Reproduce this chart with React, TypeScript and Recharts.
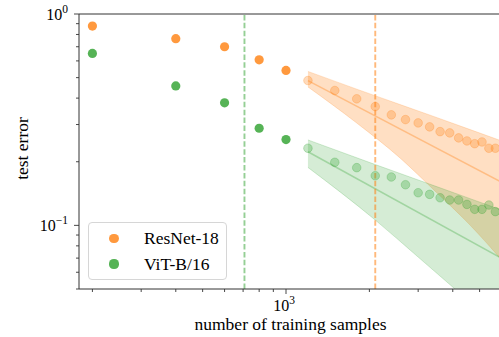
import React from 'react';
import { ComposedChart, XAxis, YAxis, Scatter, Line, Area, ReferenceLine, Label } from 'recharts';

const ORANGE = '#ff7f0e';
const GREEN = '#2ca02c';
const FONT = '"Liberation Serif", "Times New Roman", serif';

// number of training samples
const earlyX = [200, 400, 600, 800, 1000];
const resnetEarly = [0.877, 0.764, 0.7, 0.607, 0.541];
const vitEarly = [0.651, 0.457, 0.38, 0.288, 0.2545];

const lateX = [1200, 1500, 1800, 2100, 2400, 2700, 3000, 3300, 3600, 3900, 4200, 4500, 4800, 5100, 5400, 5700];
const resnetLate = [0.4845, 0.4345, 0.3969, 0.3648, 0.3333, 0.3166, 0.3053, 0.2924, 0.2777, 0.2738, 0.2593, 0.2509, 0.2435, 0.2481, 0.2317, 0.2317];
const vitLate = [0.2317, 0.1988, 0.1875, 0.1718, 0.1694, 0.1557, 0.1427, 0.1402, 0.1351, 0.1318, 0.1318, 0.1257, 0.1191, 0.1191, 0.1248, 0.1162];

// power-law fits
const fitX = [1200, 6023];
const resnetFit = [0.484, 0.1596];
const vitFit = [0.223, 0.0697];

// confidence bands
const resnetBandX = [1200, 1800, 2580, 3450, 4620, 6023];
const resnetBandLow = [0.452, 0.305, 0.2084, 0.1454, 0.1003, 0.0683];
const resnetBandHigh = [0.535, 0.441, 0.373, 0.326, 0.284, 0.2506];
const vitBandX = [1200, 2100, 3000, 4074, 6023];
const vitBandLow = [0.188, 0.106, 0.0708, 0.05, 0.032];
const vitBandHigh = [0.2537, 0.194, 0.164, 0.142, 0.118];

const vitThreshold = 708;
const resnetThreshold = 2100;

const xTicks = [200, 300, 400, 500, 600, 700, 800, 900, 1000, 2000, 3000, 4000, 5000];
const yTicks = [0.05, 0.06, 0.07, 0.08, 0.09, 0.1, 0.2, 0.3, 0.4, 0.5, 0.6, 0.7, 0.8, 0.9, 1];
const xDomain = [178.9, 6023];
const yDomain = [0.05, 1];

const pts = (xs: number[], ys: number[]) => xs.map((x, i) => ({ x, y: ys[i] }));
const band = (xs: number[], lo: number[], hi: number[]) => xs.map((x, i) => ({ x, range: [lo[i], hi[i]] }));

const resnetEarlyData = pts(earlyX, resnetEarly);
const vitEarlyData = pts(earlyX, vitEarly);
const resnetLateData = pts(lateX, resnetLate);
const vitLateData = pts(lateX, vitLate);
const resnetFitData = pts(fitX, resnetFit);
const vitFitData = pts(fitX, vitFit);
const resnetBandData = band(resnetBandX, resnetBandLow, resnetBandHigh);
const vitBandData = band(vitBandX, vitBandLow, vitBandHigh);

const solidDot = (color: string) => (p: any) => (
  <circle cx={p.cx} cy={p.cy} r={4.6} fill={color} fillOpacity={0.8} />
);
const fadedDot = (color: string) => (p: any) => (
  <circle cx={p.cx} cy={p.cy} r={4.3} fill={color} fillOpacity={0.28} stroke={color} strokeOpacity={0.25} strokeWidth={1} />
);

const XTick = (p: any) => {
  const v = p.payload.value;
  const major = v === 1000;
  return (
    <g>
      <line x1={p.x} x2={p.x} y1={p.y} y2={p.y + (major ? 5 : 3)} stroke="#333" strokeWidth={0.9} />
      {major && (
        <text x={p.x - 2} y={p.y + 22} textAnchor="middle" fontFamily={FONT} fontSize={16} fill="#000">
          10<tspan dy={-7} fontSize={11.5}>3</tspan>
        </text>
      )}
    </g>
  );
};

const YTick = (p: any) => {
  const v = p.payload.value;
  const major = v === 0.1 || v === 1;
  return (
    <g>
      <line x1={p.x - (major ? 5 : 3)} x2={p.x} y1={p.y} y2={p.y} stroke="#333" strokeWidth={0.9} />
      {major && (
        <text x={p.x - 11} y={p.y + 6} textAnchor="end" fontFamily={FONT} fontSize={16} fill="#000">
          10<tspan dy={-7} fontSize={11.5}>{v === 1 ? '0' : '\u22121'}</tspan>
        </text>
      )}
    </g>
  );
};

const legendItems = [
  { name: 'ResNet-18', color: ORANGE },
  { name: 'ViT-B/16', color: GREEN },
];

export default function App() {
  return (
    <div style={{ position: 'fixed', left: 0, top: 0, width: 499, height: 337, overflow: 'hidden', background: '#fff' }}>
      <ComposedChart width={510} height={337} margin={{ top: 14, right: 8, bottom: 0, left: 0 }}>
        <XAxis
          dataKey="x"
          type="number"
          scale="log"
          domain={xDomain}
          allowDataOverflow
          ticks={xTicks}
          interval={0}
          tickSize={0}
          tickMargin={0}
          tickLine={false}
          tick={<XTick />}
          height={48}
          axisLine={{ stroke: '#333', strokeWidth: 1 }}
        >
          <Label
            content={(lp: any) => {
              const vb = lp.viewBox || { x: 79, y: 289, width: 423, height: 48 };
              return (
                <text x={vb.x + vb.width / 2} y={330} textAnchor="middle" fontFamily={FONT} fontSize={17.5} fill="#000">
                  number of training samples
                </text>
              );
            }}
          />
        </XAxis>
        <YAxis
          type="number"
          scale="log"
          domain={yDomain}
          allowDataOverflow
          ticks={yTicks}
          interval={0}
          tickSize={0}
          tickMargin={0}
          tickLine={false}
          tick={<YTick />}
          width={79}
          axisLine={{ stroke: '#333', strokeWidth: 1 }}
        >
          <Label
            content={(lp: any) => {
              const vb = lp.viewBox || { x: 0, y: 14, width: 79, height: 275 };
              const cy = vb.y + vb.height / 2 - 3;
              return (
                <text x={22} y={cy} transform={`rotate(-90 22 ${cy})`} textAnchor="middle" dominantBaseline="central" fontFamily={FONT} fontSize={17.5} fill="#000">
                  test error
                </text>
              );
            }}
          />
        </YAxis>
        <ReferenceLine y={1} stroke="#333" strokeWidth={1} />
        <Area data={resnetBandData} dataKey="range" type="monotone" fill={ORANGE} fillOpacity={0.25} stroke={ORANGE} strokeOpacity={0.2} strokeWidth={1} isAnimationActive={false} dot={false} activeDot={false} />
        <Area data={vitBandData} dataKey="range" type="monotone" fill={GREEN} fillOpacity={0.2} stroke={GREEN} strokeOpacity={0.2} strokeWidth={1} isAnimationActive={false} dot={false} activeDot={false} />
        <Line data={resnetFitData} dataKey="y" type="linear" stroke={ORANGE} strokeOpacity={0.35} strokeWidth={1.5} dot={false} activeDot={false} isAnimationActive={false} />
        <Line data={vitFitData} dataKey="y" type="linear" stroke={GREEN} strokeOpacity={0.3} strokeWidth={1.5} dot={false} activeDot={false} isAnimationActive={false} />
        <ReferenceLine x={vitThreshold} stroke={GREEN} strokeOpacity={0.5} strokeWidth={1.9} strokeDasharray="5.5 2.4" />
        <ReferenceLine x={resnetThreshold} stroke={ORANGE} strokeOpacity={0.55} strokeWidth={1.9} strokeDasharray="5.5 2.4" />
        <Scatter data={resnetLateData} dataKey="y" shape={fadedDot(ORANGE)} isAnimationActive={false} />
        <Scatter data={vitLateData} dataKey="y" shape={fadedDot(GREEN)} isAnimationActive={false} />
        <Scatter data={resnetEarlyData} dataKey="y" shape={solidDot(ORANGE)} isAnimationActive={false} />
        <Scatter data={vitEarlyData} dataKey="y" shape={solidDot(GREEN)} isAnimationActive={false} />
      </ComposedChart>
      <div
        style={{
          position: 'absolute',
          left: 88,
          top: 222,
          width: 137,
          height: 56,
          border: '1px solid #d6d6d6',
          borderRadius: 4,
          background: 'rgba(255,255,255,0.8)',
          fontFamily: FONT,
          fontSize: 17.5,
          color: '#000',
        }}
      >
        {legendItems.map((it, i) => (
          <div key={it.name} style={{ position: 'absolute', left: 0, top: 3 + i * 25.6, height: 25, width: '100%' }}>
            <div style={{ position: 'absolute', left: 20.4, top: 7.9, width: 9.2, height: 9.2, borderRadius: '50%', background: it.color, opacity: 0.8 }} />
            <div style={{ position: 'absolute', left: 55, top: 0, lineHeight: '25px', whiteSpace: 'nowrap' }}>{it.name}</div>
          </div>
        ))}
      </div>
    </div>
  );
}
